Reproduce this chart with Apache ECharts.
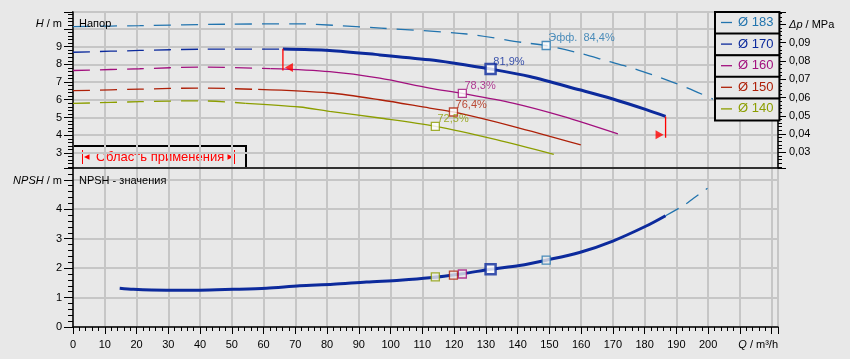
<!DOCTYPE html>
<html><head><meta charset="utf-8">
<script src="https://cdn.jsdelivr.net/npm/echarts@6/dist/echarts.min.js"></script>
<style>html,body{margin:0;padding:0;background:#e8e8e8}#c{width:850px;height:359px}</style>
</head><body><div id="c"></div>
<script>
// ---------- data ----------
const diameters = ['Ø 183', 'Ø 170', 'Ø 160', 'Ø 150', 'Ø 140'];
const colors = ['#2274ae', '#0c2a9c', '#a2107e', '#ae2008', '#8c9e00'];

const h183Q = [0, 21, 48, 71, 76, 97, 124, 142, 149, 159.5, 168, 176.3, 184.7, 193.6, 201.5];
const h183H = [10.13, 10.18, 10.26, 10.28, 10.26, 10.04, 9.71, 9.22, 9.06, 8.63, 8.2, 7.78, 7.26, 6.66, 6.04];
const h170Q = [0, 21, 40, 66.1, 80.8, 96.6, 112.3, 119.6, 131.5, 143.8, 159.5, 170, 180.5, 186.6];
const h170H = [8.68, 8.78, 8.85, 8.86, 8.78, 8.53, 8.25, 8.07, 7.73, 7.31, 6.56, 6.04, 5.44, 5.06];
const h160Q = [0, 21, 40, 62.2, 80.8, 96.6, 112.3, 122.6, 138.5, 154.3, 171.6];
const h160H = [7.65, 7.75, 7.84, 7.76, 7.59, 7.22, 6.66, 6.36, 5.81, 5.06, 4.07];
const h150Q = [0, 21, 40, 58.3, 80.8, 96.6, 112.3, 119.8, 138.5, 159.9];
const h150H = [6.51, 6.60, 6.66, 6.58, 6.38, 6.00, 5.53, 5.31, 4.50, 3.45];
const h140Q = [0, 21, 40, 54.4, 71.4, 80.8, 96.6, 114.1, 133.3, 151.4];
const h140H = [5.79, 5.89, 5.94, 5.80, 5.59, 5.34, 4.97, 4.50, 3.75, 2.92];
const curveQ = [h183Q, h170Q, h160Q, h150Q, h140Q];
const curveH = [h183H, h170H, h160H, h150H, h140H];
// start of the solid (operating) part of each curve; Ø 183 is dashed throughout
const solidFromQ = [null, 66.1, 62.2, 58.3, 54.4];

const bepQ = [149, 131.5, 122.6, 119.8, 114.1];
const bepH = [9.06, 7.73, 6.36, 5.31, 4.50];
const bepNPSH = [2.27, 1.96, 1.80, 1.76, 1.70];
const effText = ['Эфф.  84,4%', '81,9%', '78,3%', '76,4%', '72,5%'];

const npshQ = [14.7, 19, 29.4, 39.9, 50.4, 60.9, 71.4, 81.9, 92.4, 102.9, 112.3, 122.6, 131.5, 140.6, 149, 159.5, 170, 180.5, 186.6];
const npshV = [1.32, 1.28, 1.25, 1.25, 1.28, 1.32, 1.40, 1.45, 1.53, 1.59, 1.67, 1.81, 1.96, 2.09, 2.27, 2.53, 2.92, 3.43, 3.78];
const npshExtQ = [186.6, 192.6, 195.4, 199.8];
const npshExtV = [3.78, 4.15, 4.37, 4.71];

const rangeQ = [66.1, 186.6];
const rangeTop = [8.88, 5.06];
const rangeBottom = [7.65, 3.85];
const rangeLabel = 'Область применения';

const qLabels = [0, 10, 20, 30, 40, 50, 60, 70, 80, 90, 100, 110, 120, 130, 140, 150, 160, 170, 180, 190, 200];
const hLabels = [3, 4, 5, 6, 7, 8, 9];
const dpLabels = [0.03, 0.04, 0.05, 0.06, 0.07, 0.08, 0.09];
const npshLabels = [0, 1, 2, 3, 4];

// ---------- chart ----------
const FONT = '"Liberation Sans", Arial, sans-serif';
const BG = '#e8e8e8';
const GRIDC = '#c6c6c6';
const chart = echarts.init(document.getElementById('c'), null, {renderer: 'canvas'});

const pairs = (qs, vs) => qs.map((q, i) => [q, vs[i]]);
const italicRich = {
  i: {fontStyle: 'italic', fontSize: 11, fontFamily: FONT, color: '#000'},
  n: {fontSize: 11, fontFamily: FONT, color: '#000'}
};
const DASH = [17, 10];

const series = [];
diameters.forEach((name, i) => {
  const pts = pairs(curveQ[i], curveH[i]);
  const q0 = solidFromQ[i];
  const dashed = q0 == null ? pts : pts.filter(p => p[0] <= q0);
  const solid = q0 == null ? [] : pts.filter(p => p[0] >= q0);
  series.push({
    name, type: 'line', xAxisIndex: 0, yAxisIndex: 0, data: dashed, smooth: 0.3,
    showSymbol: false, silent: true, itemStyle: {color: colors[i]},
    lineStyle: {color: colors[i], width: 1.3, type: DASH}, z: 3
  });
  if (solid.length) {
    series.push({
      name, type: 'line', xAxisIndex: 0, yAxisIndex: 0, data: solid, smooth: 0.3,
      showSymbol: false, silent: true, itemStyle: {color: colors[i]},
      lineStyle: {color: colors[i], width: i === 1 ? 3 : 1.3}, z: i === 1 ? 4 : 3
    });
  }
});

// NPSH curves
series.push({
  name: diameters[1], type: 'line', xAxisIndex: 1, yAxisIndex: 2, data: pairs(npshQ, npshV),
  smooth: 0.3, showSymbol: false, silent: true, itemStyle: {color: colors[1]},
  lineStyle: {color: colors[1], width: 3}, z: 4
});
series.push({
  name: diameters[0], type: 'line', xAxisIndex: 1, yAxisIndex: 2, data: pairs(npshExtQ, npshExtV),
  smooth: 0.3, showSymbol: false, silent: true, itemStyle: {color: colors[0]},
  lineStyle: {color: colors[0], width: 1.3, type: [15, 9]}, z: 3
});

// best efficiency points
const bepItem = (i, v, withLabel) => {
  const big = i === 1;
  const size = big ? 10 : 8;
  return {
    value: v,
    symbol: 'rect',
    symbolSize: size,
    itemStyle: {color: withLabel ? '#ffffff' : (big ? '#ffffff' : BG), borderColor: colors[i], borderWidth: big ? 2.5 : 1.3},
    label: withLabel ? {
      show: true, position: 'right', distance: 0, offset: [1.5 - size / 2, -7.5],
      formatter: effText[i], color: colors[i], fontSize: 11, fontFamily: FONT
    } : {show: false}
  };
};
series.push({
  name: 'BEP', type: 'scatter', xAxisIndex: 0, yAxisIndex: 0, silent: true, z: 6,
  data: diameters.map((d, i) => bepItem(i, [bepQ[i], bepH[i]], true))
});
series.push({
  name: 'BEP NPSH', type: 'scatter', xAxisIndex: 1, yAxisIndex: 2, silent: true, z: 6,
  data: diameters.map((d, i) => bepItem(i, [bepQ[i], bepNPSH[i]], false))
});

// operating range limits
rangeQ.forEach((q, k) => {
  series.push({
    name: rangeLabel, type: 'line', xAxisIndex: 0, yAxisIndex: 0, silent: true, z: 7,
    data: [[q, rangeTop[k]], [q, rangeBottom[k]]], showSymbol: false,
    lineStyle: {color: '#ff0000', width: 1.3}, itemStyle: {color: '#ff0000'}
  });
});
series.push({
  name: rangeLabel + ' ', type: 'scatter', xAxisIndex: 0, yAxisIndex: 0, silent: true, z: 7,
  data: rangeQ.map((q, k) => ({
    value: [q, rangeBottom[k]],
    symbol: 'triangle', symbolSize: [9, 8],
    symbolRotate: k === 0 ? 90 : -90,
    symbolOffset: [k === 0 ? 6 : -6, -3],
    itemStyle: {color: '#ff0000'}
  }))
});

const legends = diameters.map((d, i) => ({
  data: [d], left: 715, top: 12 + i * 21.6, orient: 'vertical',
  padding: [4, 6, 5, 6], itemWidth: 11, itemHeight: 1.3, itemGap: 0, icon: 'rect',
  borderColor: '#000', borderWidth: 2, backgroundColor: BG, borderRadius: 0,
  selectedMode: false, z: 8,
  textStyle: {color: colors[i], fontSize: 13, fontFamily: FONT, padding: [0, 0, 0, 1]}
}));

const gridBase = {left: 73, right: 72, show: true, borderColor: '#000', borderWidth: 1.5,
  backgroundColor: 'transparent', outerBoundsMode: 'none', containLabel: false};

const xCommon = {
  type: 'value', min: 0, max: 222, interval: 10,
  splitLine: {show: true, lineStyle: {color: GRIDC, width: 2}},
  axisLine: {show: true, lineStyle: {color: '#000', width: 1.5}}
};

const option = {
  backgroundColor: BG,
  animation: false,
  textStyle: {fontFamily: FONT},
  grid: [
    Object.assign({top: 12, height: 156}, gridBase),
    Object.assign({top: 168, height: 159}, gridBase)
  ],
  xAxis: [
    Object.assign({}, xCommon, {gridIndex: 0, axisLabel: {show: false}, axisTick: {show: false}}),
    Object.assign({}, xCommon, {
      gridIndex: 1,
      axisTick: {show: true, inside: false, length: 7, lineStyle: {color: '#000'}},
      minorTick: {show: true, splitNumber: 5, length: 4, lineStyle: {color: '#000'}},
      axisLabel: {customValues: qLabels, margin: 12, color: '#000', fontSize: 11, fontFamily: FONT},
      name: '{i|Q}{n| / m³/h}', nameLocation: 'end', nameGap: 0,
      nameTextStyle: {align: 'right', verticalAlign: 'top', padding: [12, 0, 0, 0], rich: italicRich}
    })
  ],
  yAxis: [
    {
      type: 'value', gridIndex: 0, min: 2.15, max: 10.95, splitNumber: 8, minInterval: 1, maxInterval: 1,
      axisLine: {show: true, lineStyle: {color: '#000', width: 1.5}},
      axisTick: {show: true, inside: false, length: 9, lineStyle: {color: '#000'}},
      minorTick: {show: true, splitNumber: 5, length: 5, lineStyle: {color: '#000'}},
      splitLine: {show: true, lineStyle: {color: GRIDC, width: 2}},
      axisLabel: {customValues: hLabels, margin: 11, color: '#000', fontSize: 11, fontFamily: FONT},
      name: '{i|H}{n| / m}', nameLocation: 'end', nameGap: -12,
      nameTextStyle: {align: 'right', verticalAlign: 'middle', padding: [0, 11, 0, 0], rich: italicRich}
    },
    {
      type: 'value', gridIndex: 0, position: 'right', min: 0.0214, max: 0.1068, splitNumber: 8,
      minInterval: 0.01, maxInterval: 0.01,
      axisLine: {show: true, lineStyle: {color: '#000', width: 1.5}},
      axisTick: {show: true, inside: false, length: 8, lineStyle: {color: '#000'}},
      minorTick: {show: true, splitNumber: 5, length: 4, lineStyle: {color: '#000'}},
      splitLine: {show: false},
      axisLabel: {customValues: dpLabels, margin: 11, color: '#000', fontSize: 11, fontFamily: FONT,
        formatter: v => v.toFixed(2).replace('.', ',')},
      name: '{i|Δp}{n| / MPa}', nameLocation: 'end', nameGap: -12.5,
      nameTextStyle: {align: 'left', verticalAlign: 'middle', padding: [0, 0, 0, 11], rich: italicRich}
    },
    {
      type: 'value', gridIndex: 1, min: 0, max: 5.4, interval: 1,
      axisLine: {show: true, lineStyle: {color: '#000', width: 1.5}},
      axisTick: {show: true, inside: false, length: 9, lineStyle: {color: '#000'}},
      minorTick: {show: true, splitNumber: 5, length: 5, lineStyle: {color: '#000'}},
      splitLine: {show: true, lineStyle: {color: GRIDC, width: 2}},
      axisLabel: {customValues: npshLabels, margin: 11, color: '#000', fontSize: 11, fontFamily: FONT},
      name: '{i|NPSH}{n| / m}', nameLocation: 'end', nameGap: -12.7,
      nameTextStyle: {align: 'right', verticalAlign: 'middle', padding: [0, 11, 0, 0], rich: italicRich}
    }
  ],
  legend: legends,
  graphic: [
    {type: 'text', x: 79, y: 24, z: 9, style: {text: 'Напор', fontSize: 11, fontFamily: FONT, fill: '#000', verticalAlign: 'middle'}},
    {type: 'text', x: 79, y: 181, z: 9, style: {text: 'NPSH - значения', fontSize: 11, fontFamily: FONT, fill: '#000', verticalAlign: 'middle'}},
    {type: 'group', z: 9, children: [
      {type: 'rect', shape: {x: 73, y: 146, width: 173, height: 22}, style: {fill: BG, stroke: '#000', lineWidth: 2}},
      {type: 'line', shape: {x1: 82.5, y1: 150, x2: 82.5, y2: 164}, style: {stroke: '#ff0000', lineWidth: 1}},
      {type: 'polygon', shape: {points: [[84, 157], [89.5, 154.2], [89.5, 159.8]]}, style: {fill: '#ff0000'}},
      {type: 'text', x: 96, y: 157, style: {text: rangeLabel, fontSize: 13, fontFamily: FONT, fill: '#ff0000', verticalAlign: 'middle'}},
      {type: 'polygon', shape: {points: [[233, 157], [227.5, 154.2], [227.5, 159.8]]}, style: {fill: '#ff0000'}},
      {type: 'line', shape: {x1: 234.5, y1: 150, x2: 234.5, y2: 164}, style: {stroke: '#ff0000', lineWidth: 1}}
    ]}
  ],
  series
};
chart.setOption(option);
</script></body></html>
